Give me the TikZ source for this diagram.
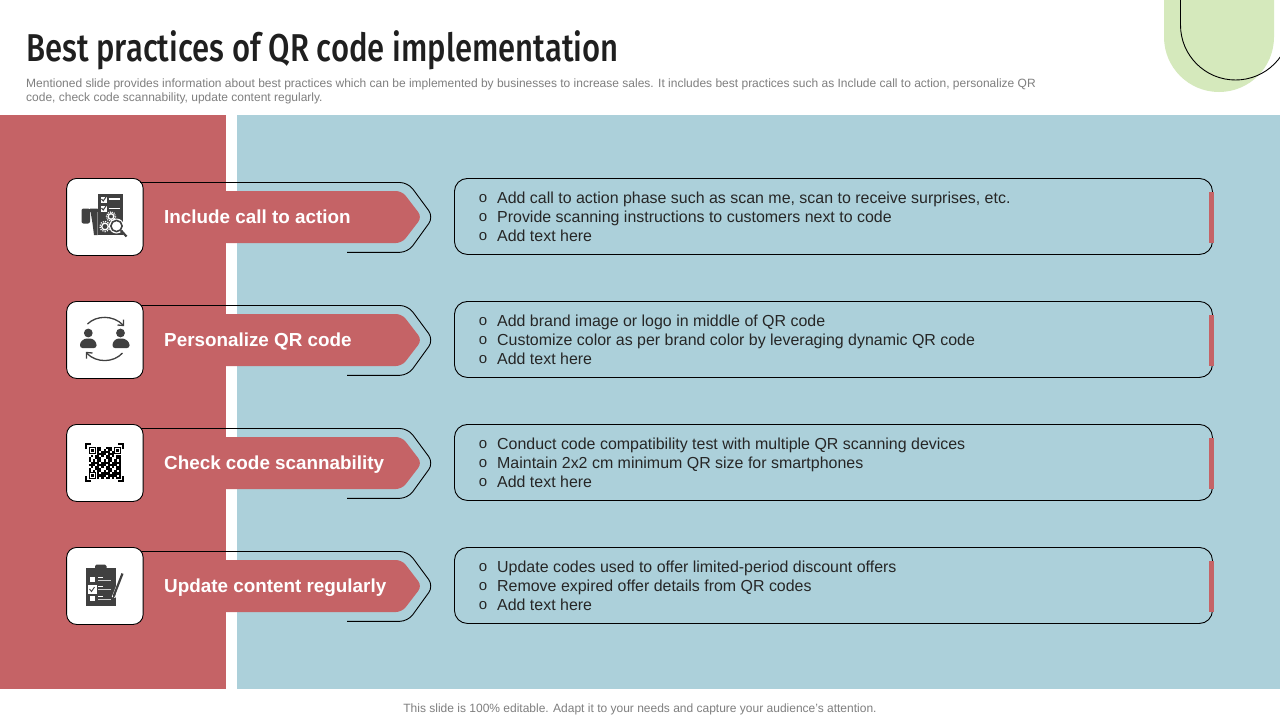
\documentclass[tikz,border=0pt]{standalone}
\usepackage{fontspec}
\setmainfont{Liberation Sans}
\newfontfamily\titlefont[FakeStretch=0.8]{Fira Sans Medium}
\definecolor{panelred}{HTML}{C56366}
\definecolor{panelblue}{HTML}{ACD0DA}
\definecolor{leaf}{HTML}{D5E9BC}
\definecolor{ink}{HTML}{404040}
\definecolor{bodyink}{HTML}{262626}
\definecolor{notegray}{HTML}{7F7F7F}
\tikzset{
  px/.style={x=1pt,y=-1pt},
  iconbox/.style={draw=black,line width=0.9pt,fill=white,rounded corners=10pt},
  detailbox/.style={draw=black,line width=0.9pt,rounded corners=13pt},
  chevline/.style={draw=black,line width=0.9pt,rounded corners=8pt},
  banner/.style={fill=panelred,rounded corners=6pt},
  headlabel/.style={anchor=base west,inner sep=0pt,text=white,font=\fontsize{18.85}{24}\selectfont\bfseries},
  bodyline/.style={anchor=base west,inner sep=0pt,text=bodyink,font=\fontsize{15.95}{19}\selectfont},
  bulletmark/.style={anchor=center,inner sep=0pt,text=bodyink,font=\fontsize{15}{16}\selectfont},
  iconline/.style={draw=ink,line width=1.3pt},
}
\begin{document}
\begin{tikzpicture}[px]
\useasboundingbox (0,0) rectangle (1280,720);
\fill[white] (0,0) rectangle (1280,720);
% corner decoration
\begin{scope}
\clip (0,0) rectangle (1280,720);
\fill[leaf] (1164,-10) -- (1164,37) .. controls (1164,67.4) and (1188.6,92) .. (1219,92) .. controls (1249.4,92) and (1274,67.4) .. (1274,37) -- (1274,-10) -- cycle;
\draw[black,line width=0.9pt] (1180.5,-10) -- (1180.5,25) .. controls (1180.5,55.4) and (1205.1,80) .. (1235.5,80) .. controls (1265.9,80) and (1290.5,55.4) .. (1290.5,25);
\end{scope}
% title
\node[anchor=base west,inner sep=0pt,text=black!88,font=\fontsize{38.8}{44}\selectfont\titlefont] (title) at (26,61.5) {Best practices of QR code implementation};
\node[anchor=base west,inner sep=0pt,text=notegray,font=\fontsize{12}{14}\selectfont] (note1) at (26,87) {Mentioned slide provides information about best practices which can be implemented by businesses to increase sales. It includes best practices such as Include call to action, personalize QR};
\node[anchor=base west,inner sep=0pt,text=notegray,font=\fontsize{12}{14}\selectfont] (note2) at (26,101) {code, check code scannability, update content regularly.};
% panels
\fill[panelred] (0,114.5) rectangle (226,688.5);
\fill[panelblue] (237,114.5) rectangle (1280,688.5);
\node[anchor=base,inner sep=0pt,text=notegray,font=\fontsize{12}{14}\selectfont] (foot) at (640,712.5) {This slide is 100\% editable. Adapt it to your needs and capture your audience's attention.};
% rows
\foreach \i/\off/\head/\la/\lb/\lc in {
 1/0/{Include call to action}/{Add call to action phase such as scan me, scan to receive surprises, etc.}/{Provide scanning instructions to customers next to code}/{Add text here},
 2/123/{Personalize QR code}/{Add brand image or logo in middle of QR code}/{Customize color as per brand color by leveraging dynamic QR code}/{Add text here},
 3/246/{Check code scannability}/{Conduct code compatibility test with multiple QR scanning devices}/{Maintain 2x2 cm minimum QR size for smartphones}/{Add text here},
 4/369/{Update content regularly}/{Update codes used to offer limited-period discount offers}/{Remove expired offer details from QR codes}/{Add text here}}{
\begin{scope}[shift={(0,\off)}]
 \fill[banner] (220,191) -- (402,191) -- (422,217) -- (402,243) -- (220,243) -- cycle;
 \draw[chevline] (130,182.5) -- (408,182.5) -- (433.5,217) -- (408,252.3) -- (347,252.3);
 \node[iconbox,minimum width=76.5pt,minimum height=77pt,anchor=north west,inner sep=0pt] (icon\i) at (66.2,178) {};
 \node[headlabel] (head\i) at (164,223) {\head};
 \node[detailbox,anchor=north west,minimum width=758pt,minimum height=76pt,inner sep=0pt] (detail\i) at (454,178) {};
 \fill[panelred] (1209,191.5) rectangle (1214,243);
 \node[bulletmark] (bulletA\i) at (483,198.5) {o};
 \node[bulletmark] (bulletB\i) at (483,217.5) {o};
 \node[bulletmark] (bulletC\i) at (483,236.5) {o};
 \node[bodyline] (lineA\i) at (497,203) {\la};
 \node[bodyline] (lineB\i) at (497,222) {\lb};
 \node[bodyline] (lineC\i) at (497,241) {\lc};
\end{scope}}
\draw[black,line width=0.9pt] (140,182) -- (386,182);
% icon 1: checklist document
\begin{scope}[shift={(66.5,178.5)}]
 \fill[ink] (31,15.5) rectangle (56,56.5);
 \fill[ink,rounded corners=2pt] (15,30) rectangle (23.5,45);
 \fill[ink] (19,30) rectangle (31,33);
 \fill[ink] (23.5,30) -- (31,30) -- (31,56.5) -- (27.5,56.5) -- (26,45) -- cycle;
 \fill[white] (34,18) rectangle (40,24);
 \fill[white] (34,27) rectangle (40,33);
 \draw[ink,line width=1pt] (35,20.5) -- (36.7,22.5) -- (39.5,18.5);
 \draw[ink,line width=1pt] (35,29.5) -- (36.7,31.5) -- (39.5,27.5);
 \draw[white,line width=1.2pt] (42,20.5) -- (53.5,20.5);
 \draw[white,line width=1.2pt] (42,30) -- (53.5,30);
 \draw[white,line width=1.3pt] (44.5,38) circle[radius=2.8];
 \draw[white,line width=1.2pt,dash pattern=on 1pt off 1pt] (44.5,38) circle[radius=4.6];
 \draw[white,line width=1.3pt] (38.5,48) circle[radius=3.3];
 \draw[white,line width=1.2pt,dash pattern=on 1.2pt off 1.2pt] (38.5,48) circle[radius=5.2];
 \fill[white] (50,47.5) circle[radius=7.5];
 \draw[ink,line width=1.6pt] (50,47.5) circle[radius=5.6];
 \draw[ink,line width=2.2pt] (54.5,52) -- (60,58);
\end{scope}
% icon 2: people exchange
\begin{scope}[shift={(66.5,301.5)}]
 \fill[ink] (21.8,31.5) circle[radius=4.4];
 \fill[ink] (54,31.5) circle[radius=4.4];
 \fill[ink,rounded corners=2.5pt] (13.5,46.5) -- (13.5,41) -- (18,37) -- (26,37) -- (30,41) -- (30,46.5) -- cycle;
 \fill[ink,rounded corners=2.5pt] (46,46.5) -- (46,41) -- (50,37) -- (58,37) -- (63,41) -- (63,46.5) -- cycle;
 \draw[iconline] (21,22.5) .. controls (30,13.5) and (47,13.5) .. (56.5,23.5);
 \draw[iconline] (51,23.5) -- (57,24) -- (57,18);
 \draw[iconline] (56,51.5) .. controls (47,61.5) and (30,61.5) .. (20.5,52);
 \draw[iconline] (26,51.5) -- (20,51) -- (20,57);
\end{scope}
% icon 3: QR code
\begin{scope}[shift={(66.5,424.5)}]
 \draw[black,line width=1.2pt] (19.5,24.5) -- (19.5,19.5) -- (24.5,19.5);
 \draw[black,line width=1.2pt] (51.5,19.5) -- (56.5,19.5) -- (56.5,24.5);
 \draw[black,line width=1.2pt] (19.5,51.5) -- (19.5,56.5) -- (24.5,56.5);
 \draw[black,line width=1.2pt] (51.5,56.5) -- (56.5,56.5) -- (56.5,51.5);
 \foreach \a in {0,...,14}{\foreach \b in {0,...,14}{
   \pgfmathtruncatemacro{\v}{mod(\a*\a*3+\b*\b*5+\a*\b*7+\a+2*\b,5)}
   \ifnum\v<3\relax
     \fill[black] ({22+\a*2.15},{22+\b*2.15}) rectangle ++(2.2,2.2);
   \fi}}
 \foreach \cx/\cy in {22/22,47/22,22/47}{
   \fill[white] (\cx,\cy) rectangle ++(8,8);
   \draw[black,line width=1.2pt] (\cx+0.8,\cy+0.8) rectangle ++(6.2,6.2);
   \fill[black] (\cx+2.7,\cy+2.7) rectangle ++(2.5,2.5);}
\end{scope}
% icon 4: clipboard
\begin{scope}[shift={(66.5,547.5)}]
 \fill[ink] (19.5,20) rectangle (49.5,58);
 \fill[ink,rounded corners=1.5pt] (28.5,17) rectangle (40,22);
 \fill[white] (23.5,29) rectangle (28.5,34);
 \fill[white] (21,37.5) rectangle (30,46);
 \fill[white] (23.5,48) rectangle (28.5,53);
 \draw[ink,line width=0.9pt] (23,41.5) -- (25,44) -- (28,39.5);
 \foreach \yy in {29.5,38.5,48.5}{\draw[white,line width=0.7pt] (31.5,\yy) -- (36,\yy);}
 \foreach \yy in {32.5,42,52}{\draw[white!75!ink,line width=0.6pt] (31.5,\yy) -- (44,\yy);}
 \draw[white,line width=3.6pt] (56,27) -- (47,50);
 \draw[ink,line width=2.2pt] (56,26) -- (48,46.5);
 \fill[ink] (46.6,46) -- (49.4,47) -- (46.5,52) -- cycle;
\end{scope}
\end{tikzpicture}
\end{document}
